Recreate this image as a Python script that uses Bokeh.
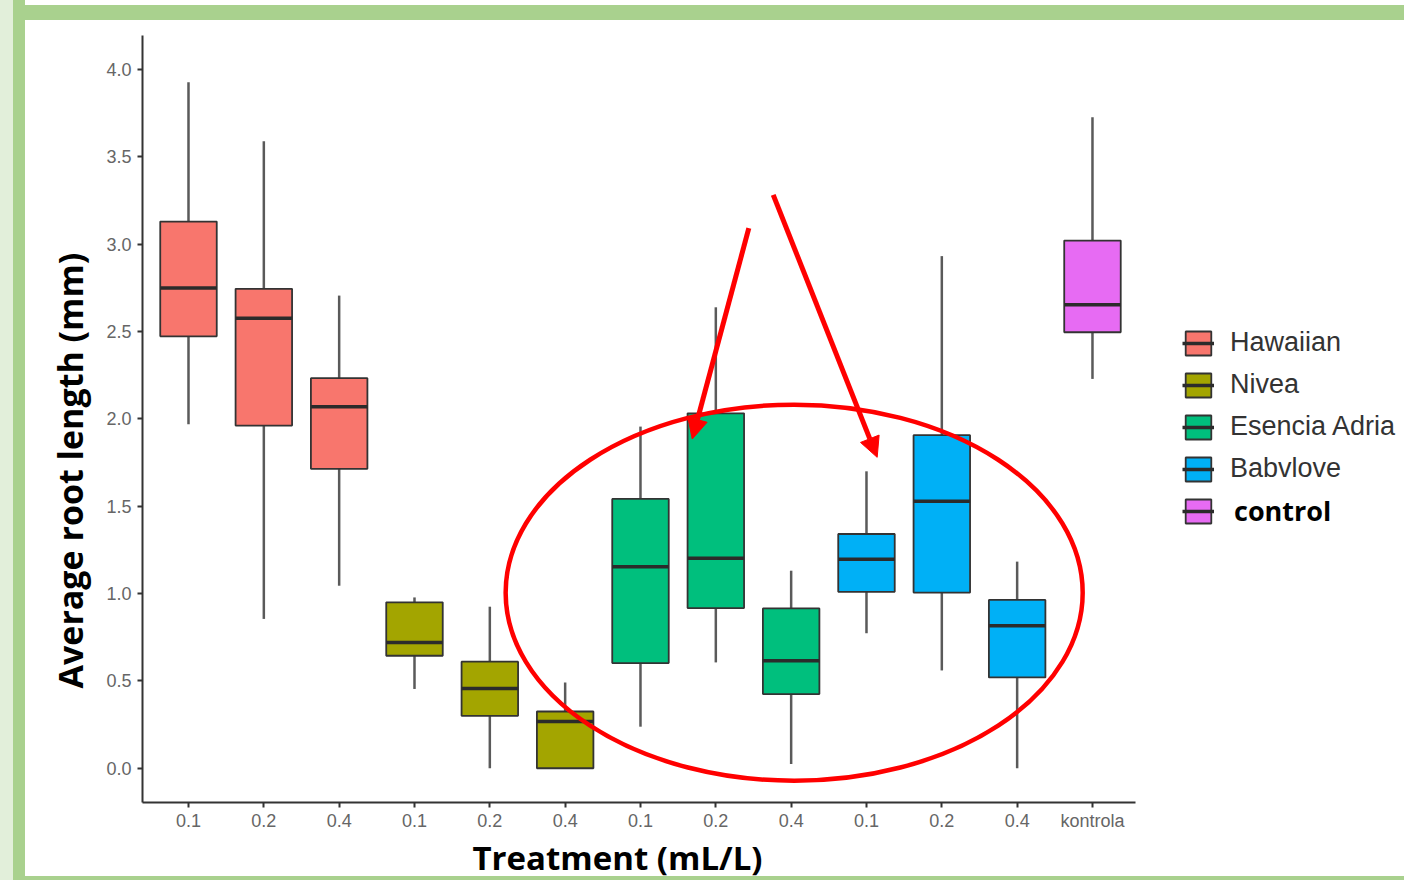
import numpy as np
from bokeh.plotting import figure
from bokeh.models import (ColumnDataSource, FixedTicker, PrintfTickFormatter, Legend,
                          LegendItem, Arrow, NormalHead, Range1d, Title)
from bokeh.embed import file_html
from bokeh.resources import INLINE

# ---------------- data ----------------
dose_labels = ["0.1", "0.2", "0.4", "0.1", "0.2", "0.4", "0.1", "0.2", "0.4",
               "0.1", "0.2", "0.4", "kontrola"]
groups = (["Hawaiian"] * 3 + ["Nivea"] * 3 + ["Esencia Adria"] * 3 +
          ["Babvlove"] * 3 + ["control"])
whisker_low = [1.97, 0.855, 1.045, 0.454, 0.0, 0.0, 0.238, 0.606, 0.024, 0.773, 0.56, 0.0, 2.229]
q1 = [2.473, 1.962, 1.714, 0.644, 0.30, 0.0, 0.602, 0.917, 0.425, 1.01, 1.006, 0.52, 2.496]
median = [2.75, 2.576, 2.07, 0.72, 0.457, 0.268, 1.154, 1.202, 0.616, 1.197, 1.528, 0.816, 2.653]
q3 = [3.13, 2.745, 2.233, 0.95, 0.61, 0.325, 1.542, 2.032, 0.915, 1.341, 1.907, 0.964, 3.021]
whisker_high = [3.928, 3.59, 2.706, 0.978, 0.925, 0.491, 1.956, 2.639, 1.131, 1.70, 2.932, 1.183, 3.727]

group_names = ["Hawaiian", "Nivea", "Esencia Adria", "Babvlove", "control"]
group_colors = ["#F8766D", "#A3A500", "#00BF7D", "#00B0F6", "#E76BF3"]
y_ticks = [0.0, 0.5, 1.0, 1.5, 2.0, 2.5, 3.0, 3.5, 4.0]

x_title = "Treatment (mL/L)"
y_title = "Average root length (mm)"

# highlight annotation (red ellipse + two arrows), in axis units
ellipse_spec = dict(x=8.04, y=1.005, w=7.66, h=2.153)
arrow_specs = [(7.438, 3.092, 6.687, 1.885), (7.762, 3.283, 9.142, 1.78)]

# ---------------- build ----------------
BOX_W = 0.75
xs = np.arange(len(dose_labels), dtype=float)
color_of = dict(zip(group_names, group_colors))
src = ColumnDataSource(dict(
    x=xs, xl=xs - BOX_W / 2, xr=xs + BOX_W / 2,
    lo=whisker_low, q1=q1, med=median, q3=q3, hi=whisker_high,
    color=[color_of[g] for g in groups], group=groups,
))

W, H = 1404, 880
X0, X1 = -0.6106, 16.142          # plotting area runs to the right edge (legend inside)
Y0, Y1 = -0.196, 4.195
X_AXIS_END = 12.571                # visible x axis line ends here
p = figure(width=W, height=H, output_backend="svg", toolbar_location=None,
           x_range=Range1d(X0, X1), y_range=Range1d(Y0, Y1),
           min_border_left=142, min_border_right=0, min_border_top=35,
           min_border_bottom=78)
p.background_fill_color = "white"
p.border_fill_color = None
p.outline_line_color = None
p.xgrid.visible = False
p.ygrid.visible = False

# green slide frame drawn as the page background behind the canvas
p.styles = {
    "background-color": "white",
    "background-image": (
        "linear-gradient(to right, #e2efda 0px, #e2efda 13px, #a9d18e 13px, #a9d18e 25px, "
        "rgba(255,255,255,0) 25px), "
        "linear-gradient(to bottom, #ffffff 0px, #ffffff 5px, #a9d18e 5px, #a9d18e 20px, "
        "#ffffff 20px, #ffffff 876px, #a9d18e 876px)"
    ),
}

# whiskers
p.segment(x0="x", x1="x", y0="q3", y1="hi", source=src,
          line_color="#5a5a5a", line_width=2.5)
p.segment(x0="x", x1="x", y0="lo", y1="q1", source=src,
          line_color="#5a5a5a", line_width=2.5)
# boxes
box_r = p.vbar(x="x", width=BOX_W, bottom="q1", top="q3", source=src,
               fill_color="color", line_color="#333333", line_width=1.8)
med_r = p.segment(x0="xl", x1="xr", y0="med", y1="med", source=src,
                  line_color="#2b2b2b", line_width=3.5)

# highlight
p.ellipse(x=[ellipse_spec["x"]], y=[ellipse_spec["y"]], width=[ellipse_spec["w"]],
          height=[ellipse_spec["h"]], fill_color=None, line_color="#ff0000",
          line_width=4.5)
for (xs0, ys0, xe, ye) in arrow_specs:
    p.add_layout(Arrow(end=NormalHead(size=20, fill_color="#ff0000", line_color="#ff0000"),
                       x_start=xs0, y_start=ys0, x_end=xe, y_end=ye,
                       line_color="#ff0000", line_width=5))

# axes
p.xaxis.ticker = FixedTicker(ticks=list(xs))
p.xaxis.major_label_overrides = {int(i): lab for i, lab in enumerate(dose_labels)}
p.xaxis.bounds = (X0, X_AXIS_END)
p.yaxis.ticker = FixedTicker(ticks=y_ticks)
p.yaxis.formatter = PrintfTickFormatter(format="%.1f")
for ax in (p.xaxis, p.yaxis):
    ax.axis_line_color = "#333333"
    ax.axis_line_width = 2
    ax.major_tick_line_color = "#333333"
    ax.major_tick_line_width = 2
    ax.major_tick_out = 5
    ax.major_tick_in = 0
    ax.minor_tick_line_color = None
    ax.major_label_text_font = "Liberation Sans"
    ax.major_label_text_font_size = "18px"
    ax.major_label_text_color = "#666666"
p.xaxis.major_label_standoff = 3
p.yaxis.major_label_standoff = 6

# axis titles as side titles, aligned from the start and offset like the reference
p.add_layout(Title(text=x_title, align="left", offset=330, standoff=0,
                   vertical_align="middle",
                   text_font="Open Sans", text_font_style="bold",
                   text_font_size="33px", text_color="#000000"), "below")
p.add_layout(Title(text=y_title, align="left", offset=114, standoff=20,
                   vertical_align="middle",
                   text_font="Open Sans", text_font_style="bold",
                   text_font_size="34px", text_color="#000000"), "left")

# legends (inside the right part of the plotting area)
items_main = []
for g in group_names[:-1]:
    items_main.append(LegendItem(label=g, renderers=[box_r, med_r], index=groups.index(g)))
legend_main = Legend(items=items_main, location=(1040, 318), margin=0, padding=0,
                     border_line_color=None, background_fill_alpha=0,
                     glyph_width=32, glyph_height=30, label_standoff=16, spacing=11,
                     label_text_font="Liberation Sans", label_text_font_size="27px",
                     label_text_color="#333333")
p.add_layout(legend_main)
legend_ctrl = Legend(items=[LegendItem(label=group_names[-1], renderers=[box_r, med_r],
                                       index=groups.index(group_names[-1]))],
                     location=(1040, 273), margin=0, padding=0,
                     border_line_color=None, background_fill_alpha=0,
                     glyph_width=32, glyph_height=30, label_standoff=20,
                     label_text_font="Open Sans", label_text_font_style="bold",
                     label_text_font_size="27px", label_text_color="#000000")
p.add_layout(legend_ctrl)

open("out.html", "w").write(file_html(p, INLINE))
